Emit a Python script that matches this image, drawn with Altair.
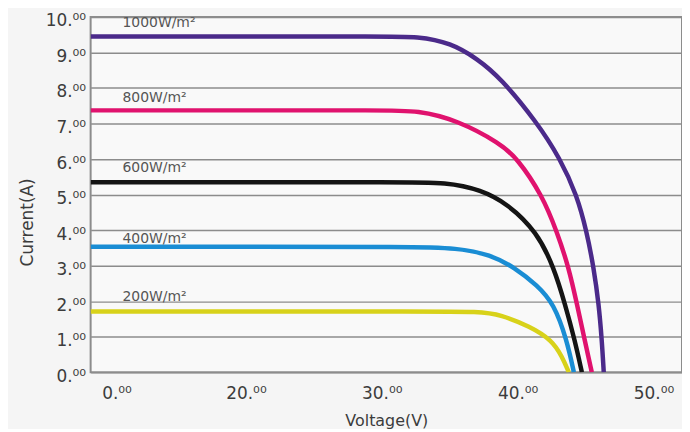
import altair as alt
import pandas as pd

# ---- data ----
series = ["1000W/m²", "800W/m²", "600W/m²", "400W/m²", "200W/m²"]
colors = ["#4b2a8a", "#e0126e", "#141414", "#1a8dd4", "#d8d21a"]

v_1000 = [-4, 20, 30, 32.66, 35.07, 37.04, 38.73, 41.43, 43.12, 44.36, 45.09, 45.6, 45.97, 46.2, 46.34]
i_1000 = [9.45, 9.45, 9.45, 9.45, 9.27, 8.82, 8.29, 7.03, 6.02, 4.99, 3.95, 2.94, 1.93, 0.90, 0.0]

v_800 = [-4, 20, 30, 32.66, 35.58, 38.73, 39.97, 41.8, 42.9, 43.77, 44.36, 44.94, 45.46]
i_800 = [7.37, 7.37, 7.37, 7.37, 7.09, 6.44, 6.02, 4.99, 3.95, 2.94, 1.93, 0.90, 0.0]

v_600 = [-4, 20, 31, 34.85, 37.3, 39.24, 41.43, 42.68, 43.48, 44.21, 44.73]
i_600 = [5.35, 5.35, 5.35, 5.35, 5.13, 4.75, 3.95, 2.94, 1.93, 0.90, 0.0]

v_400 = [-4, 20, 32, 35.58, 37.99, 39.82, 41.43, 42.68, 43.63, 44.14]
i_400 = [3.53, 3.53, 3.53, 3.50, 3.31, 2.94, 2.45, 1.93, 0.90, 0.0]

v_200 = [-4, 20, 33, 37.26, 38.73, 40.92, 42.53, 43.26, 43.77]
i_200 = [1.71, 1.71, 1.71, 1.71, 1.62, 1.29, 0.90, 0.45, 0.0]

label_v = [0.92, 0.92, 0.92, 0.92, 0.92]
label_i = [9.83, 7.73, 5.74, 3.75, 2.13]

x_ticks = [0, 20, 30, 40, 50]
y_ticks = [0, 1, 2, 3, 4, 5, 6, 7, 8, 9, 10]

# ---- tables ----
volts = [v_1000, v_800, v_600, v_400, v_200]
amps = [i_1000, i_800, i_600, i_400, i_200]
rows = []
for name, vs, cs in zip(series, volts, amps):
    for k, (v, c) in enumerate(zip(vs, cs)):
        rows.append({"series": name, "order": k, "V": v, "I": c})
df = pd.DataFrame(rows)
labels_df = pd.DataFrame({"series": series, "V": label_v, "I": label_i})

FONT = "DejaVu Sans"
TXT = "#3c3c3c"

x_scale = alt.Scale(domain=[-4, 0, 20, 52.1], range=[0, 26, 156, 594], nice=False, zero=False)
y_scale = alt.Scale(domain=[0, 10], nice=False, zero=False)

x_axis = alt.Axis(
    values=x_ticks, labelExpr="datum.value + '.⁰⁰'", grid=False, ticks=False, tickSize=0,
    domain=False, labelFont=FONT, labelFontSize=17, labelColor=TXT, labelPadding=21,
    labelBaseline="middle", labelFlush=False, labelOverlap=False,
    title="Voltage(V)", titleFont=FONT, titleFontSize=16, titleFontWeight="normal",
    titleColor=TXT, titleX=297, titleY=48, titleBaseline="middle", titleAlign="center",
)
y_axis = alt.Axis(
    values=y_ticks, tickCount=11, labelExpr="datum.value + '.⁰⁰'", grid=True,
    gridColor="#8c8c8c", gridWidth=1.5, gridOpacity=1, ticks=False, tickSize=0, domain=False,
    labelFont=FONT, labelFontSize=17, labelColor=TXT, labelPadding=5, labelOffset=4,
    labelAlign="right", labelBaseline="middle", labelOverlap=False, labelFlush=False,
    title="Current(A)", titleFont=FONT, titleFontSize=17, titleFontWeight="normal",
    titleColor=TXT, titleX=-63, titleY=206, titleAngle=270, titleBaseline="middle",
    titleAlign="center",
)

lines = alt.Chart(df).mark_line(strokeWidth=4.5, interpolate="basis", clip=True).encode(
    x=alt.X("V:Q", scale=x_scale, axis=x_axis),
    y=alt.Y("I:Q", scale=y_scale, axis=y_axis),
    color=alt.Color("series:N", scale=alt.Scale(domain=series, range=colors), legend=None),
    order=alt.Order("order:Q"),
)

texts = alt.Chart(labels_df).mark_text(
    align="left", baseline="middle", font=FONT, fontSize=14, color="#555555"
).encode(
    x=alt.X("V:Q", scale=x_scale, axis=x_axis),
    y=alt.Y("I:Q", scale=y_scale, axis=y_axis),
    text="series:N",
)

chart = alt.layer(lines, texts).properties(
    width=594, height=357,
    padding={"left": 83, "top": 8, "right": 0, "bottom": 56},
    autosize=alt.AutoSizeParams(type="none"),
    background="#f5f5f5",
).configure_view(stroke="#8c8c8c", strokeWidth=2, fill="#f9f9f9")

chart.save("out.html", embed_options={"renderer": "svg", "actions": False})
